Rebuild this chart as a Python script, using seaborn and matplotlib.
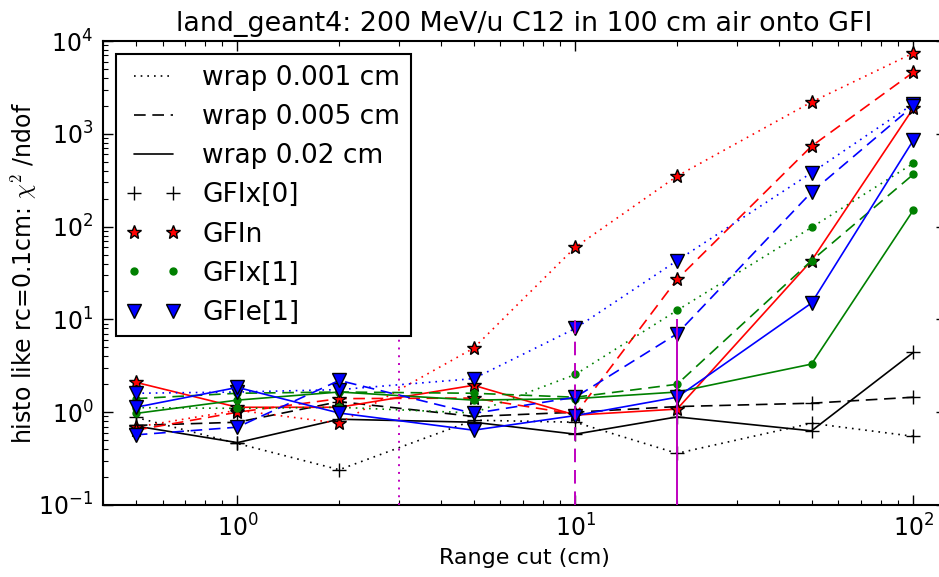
import matplotlib
matplotlib.use("Agg")
import numpy as np
import matplotlib.pyplot as plt
from matplotlib.lines import Line2D
from matplotlib.legend_handler import HandlerLine2D
import seaborn as sns
import pandas as pd

# ---------------- data ----------------
range_cut = [0.5, 1, 2, 5, 10, 20, 50, 100]
wrap_labels = ["wrap 0.001 cm", "wrap 0.005 cm", "wrap 0.02 cm"]
quantities = ["GFIx[0]", "GFIn", "GFIx[1]", "GFIe[1]"]

gfix0_w0001 = [0.88, 0.46, 0.24, 0.82, 0.78, 0.36, 0.76, 0.55]
gfix0_w0005 = [0.72, 0.78, 1.30, 0.90, 1.00, 1.15, 1.25, 1.45]
gfix0_w002 = [0.71, 0.47, 0.84, 0.78, 0.58, 0.89, 0.63, 4.4]

gfin_w0001 = [0.69, 1.05, 0.76, 4.9, 60, 350, 2200, 7400]
gfin_w0005 = [0.64, 1.00, 1.40, 1.42, 0.95, 27, 735, 4600]
gfin_w002 = [2.1, 1.13, 1.13, 1.95, 0.93, 1.08, 43, 1880]

gfix1_w0001 = [1.12, 1.10, 1.13, 0.98, 2.55, 12.5, 98, 480]
gfix1_w0005 = [1.40, 1.60, 1.65, 1.60, 1.45, 2.0, 43, 365]
gfix1_w002 = [0.97, 1.35, 1.65, 1.35, 1.40, 1.65, 3.3, 150]

gfie1_w0001 = [1.60, 1.65, 1.75, 2.3, 8.0, 43, 380, 2100]
gfie1_w0005 = [0.57, 0.69, 2.2, 0.97, 1.45, 7.0, 235, 2000]
gfie1_w002 = [1.13, 1.85, 0.98, 0.64, 0.92, 1.45, 15, 850]

cut_lines = [3, 10, 20]
cut_line_top = 10

series = {
    "GFIx[0]": [gfix0_w0001, gfix0_w0005, gfix0_w002],
    "GFIn": [gfin_w0001, gfin_w0005, gfin_w002],
    "GFIx[1]": [gfix1_w0001, gfix1_w0005, gfix1_w002],
    "GFIe[1]": [gfie1_w0001, gfie1_w0005, gfie1_w002],
}

# ---------------- style ----------------
sns.set_style("ticks")
plt.rcParams.update({
    "font.family": ["DejaVu Sans"],
    "mathtext.fontset": "cm",
    "text.color": "black",
    "axes.labelcolor": "black",
    "axes.titlecolor": "black",
    "xtick.direction": "in",
    "ytick.direction": "in",
    "xtick.top": True,
    "ytick.right": True,
    "xtick.major.size": 7,
    "xtick.minor.size": 3.5,
    "ytick.major.size": 7,
    "ytick.minor.size": 3.5,
    "xtick.major.width": 1.0,
    "ytick.major.width": 1.0,
    "xtick.minor.width": 0.8,
    "ytick.minor.width": 0.8,
    "axes.linewidth": 1.5,
    "axes.edgecolor": "black",
    "xtick.color": "black",
    "ytick.color": "black",
    "xtick.labelcolor": "black",
    "ytick.labelcolor": "black",
    "lines.dotted_pattern": [1, 3],
    "lines.dashed_pattern": [7, 4],
    "lines.scale_dashes": True,
})

colors = {"GFIx[0]": "black", "GFIn": "red", "GFIx[1]": "#008000", "GFIe[1]": "blue"}
markers = {"GFIx[0]": "+", "GFIn": "*", "GFIx[1]": "o", "GFIe[1]": "v"}
msizes = {"GFIx[0]": 10, "GFIn": 10, "GFIx[1]": 5, "GFIe[1]": 10}
medges = {"GFIx[0]": "black", "GFIn": "black", "GFIx[1]": "#008000", "GFIe[1]": "black"}
linestyles = [":", "--", "-"]

fig = plt.figure(figsize=(9.39, 5.77), dpi=100)
ax = fig.add_axes([103 / 939, 1 - 505 / 577, 843 / 939, 464 / 577])

for q in quantities:
    for ls, vals in zip(linestyles, series[q]):
        df = pd.DataFrame({"x": range_cut, "y": vals})
        sns.lineplot(data=df, x="x", y="y", ax=ax, color=colors[q], linestyle=ls,
                     marker=markers[q], markersize=msizes[q],
                     markeredgecolor=medges[q], markeredgewidth=1.0,
                     linewidth=1.2, sort=False, errorbar=None, legend=False)

for xc, ls in zip(cut_lines, linestyles):
    ax.vlines(xc, 0.1, cut_line_top, colors="#bf00bf", linestyles=ls, linewidth=1.4, zorder=5)

ax.set_xscale("log")
ax.set_yscale("log")
ax.set_xlim(0.4, 125)
ax.set_ylim(0.1, 1e4)

ax.tick_params(axis="both", which="major", labelsize=17, pad=7)
ax.set_title("land_geant4: 200 MeV/u C12 in 100 cm air onto GFI", fontsize=19.4, pad=7)
ax.set_xlabel("Range cut (cm)", fontsize=16)
ax.set_ylabel(r"histo like rc=0.1cm: $\chi^2$ /ndof", fontsize=17)
ax.xaxis.set_label_coords(0.5, -0.092)
ax.yaxis.set_label_coords(-0.076, 0.5)


class ShiftedHandler(HandlerLine2D):
    def __init__(self, shift_em, **kw):
        super().__init__(marker_pad=0, numpoints=2, **kw)
        self.shift_em = shift_em

    def get_xdata(self, legend, xdescent, ydescent, width, height, fontsize):
        x0 = -xdescent + self.shift_em * fontsize
        xdata = np.linspace(x0, -xdescent + width, 2)
        return xdata, xdata


handles = [Line2D([], [], color="black", linestyle=ls, linewidth=1.2) for ls in linestyles]
for q in quantities:
    handles.append(Line2D([], [], color=colors[q], linestyle="none", marker=markers[q],
                          markersize=msizes[q], markeredgecolor=medges[q], markeredgewidth=1.0))
labels = wrap_labels + quantities
leg = ax.legend(handles, labels, loc="upper left", fontsize=19, numpoints=2,
                frameon=True, fancybox=False, shadow=False, framealpha=1,
                edgecolor="black", handlelength=1.77, handletextpad=1.1,
                labelspacing=0.5, borderpad=0.4, borderaxespad=0.5,
                handler_map={Line2D: ShiftedHandler(0.27)})
leg.get_frame().set_linewidth(1.5)
leg.set_zorder(10)

fig.savefig("out.png", dpi=100, facecolor="white")
